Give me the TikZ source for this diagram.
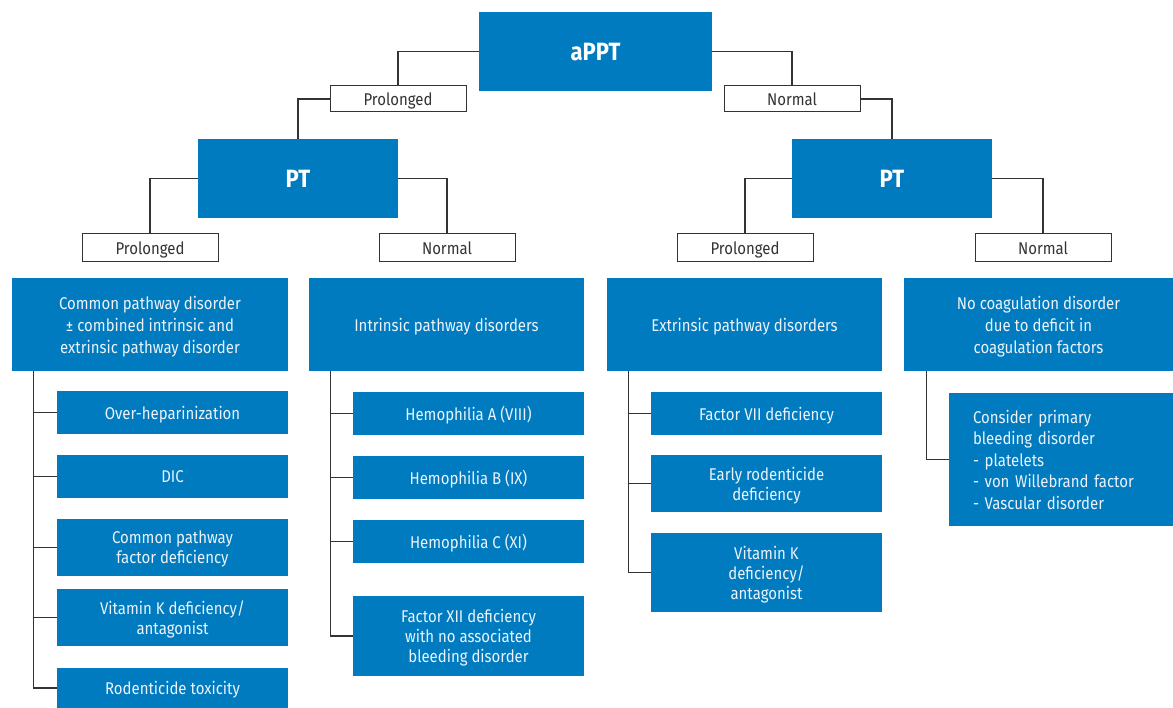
\documentclass[tikz,border=0pt]{standalone}
\usepackage{fontspec}
\setmainfont{Fira Sans}[FakeStretch=0.88]
\definecolor{boxblue}{RGB}{0,123,192}
\definecolor{txtw}{RGB}{236,243,250}
\definecolor{lnc}{RGB}{51,51,51}
\tikzset{
 basebox/.style={fill=boxblue, text=txtw, inner sep=0pt, font=\fontsize{17}{20}\selectfont},
 bluebox/.style={basebox, align=center, text depth=-1pt},
 catbox/.style={bluebox, font=\fontsize{17}{22}\selectfont, minimum height=93pt},
 subA/.style={bluebox, minimum width=231pt},
 headbox/.style={fill=boxblue, text=white, inner sep=0pt, text depth=0pt, minimum width=200pt, minimum height=79pt, font=\fontsize{25}{28}\selectfont\bfseries},
 lbl/.style={draw=lnc, line width=1pt, fill=white, text=lnc, inner sep=0pt, text depth=0pt, minimum width=136pt, minimum height=26pt, font=\fontsize{17}{18}\selectfont},
 conn/.style={draw=lnc, line width=1.2pt},
}
\begin{document}
\begin{tikzpicture}[x=1pt,y=-1pt]
\useasboundingbox (0,0) rectangle (1173,708);
% top
\node[headbox, minimum width=233pt] (appt) at (595.5,51.5) {aPPT};
\node[lbl] (pl1) at (398,99) {Prolonged};
\node[lbl] (nl1) at (792,99) {Normal};
\node[headbox] (ptl) at (298,178.5) {PT};
\node[headbox] (ptr) at (892,178.5) {PT};
\node[lbl, minimum height=28pt] (la) at (150,248) {Prolonged};
\node[lbl, minimum height=28pt] (lb) at (447,248) {Normal};
\node[lbl, minimum height=28pt] (lc) at (745,248) {Prolonged};
\node[lbl, minimum height=28pt] (ld) at (1043,248) {Normal};
\draw[conn] (appt.west) -| (pl1.north);
\draw[conn] (pl1.west) -| (ptl.north);
\draw[conn] (appt.east) -| (nl1.north);
\draw[conn] (nl1.east) -| (ptr.north);
\draw[conn] (ptl.west) -| (la.north);
\draw[conn] (ptl.east) -| (lb.north);
\draw[conn] (ptr.west) -| (lc.north);
\draw[conn] (ptr.east) -| (ld.north);
% categories
\node[catbox, minimum width=276pt] (c1) at (150,324.5) {Common pathway disorder\\± combined intrinsic and\\extrinsic pathway disorder};
\node[catbox, minimum width=275pt] (c2) at (446.5,324.5) {Intrinsic pathway disorders};
\node[catbox, minimum width=275pt] (c3) at (744.5,324.5) {Extrinsic pathway disorders};
\node[catbox, minimum width=269pt] (c4) at (1038.5,324.5) {No coagulation disorder\\due to deficit in\\coagulation factors};
% column 1
\node[subA, minimum height=43pt] (a1) at (172.5,412.5) {Over-heparinization};
\node[subA, minimum height=43pt] (a2) at (172.5,476.5) {DIC};
\node[subA, minimum height=57pt] (a3) at (172.5,547.5) {Common pathway\\factor deficiency};
\node[subA, minimum height=57pt] (a4) at (172.5,617.5) {Vitamin K deficiency/\\antagonist};
\node[subA, minimum height=40pt] (a5) at (172.5,688) {Rodenticide toxicity};
\foreach \n in {a1,a2,a3,a4,a5} \draw[conn] ([xshift=22pt]c1.south west) |- (\n.west);
% column 2
\node[subA, minimum height=43pt] (b1) at (468.5,413.5) {Hemophilia A (VIII)};
\node[subA, minimum height=43pt] (b2) at (468.5,477.5) {Hemophilia B (IX)};
\node[subA, minimum height=43pt] (b3) at (468.5,541.5) {Hemophilia C (XI)};
\node[subA, minimum height=80pt] (b4) at (468.5,636) {Factor XII deficiency\\with no associated\\bleeding disorder};
\foreach \n in {b1,b2,b3,b4} \draw[conn] ([xshift=22pt]c2.south west) |- (\n.west);
% column 3
\node[subA, minimum height=43pt] (d1) at (766.5,413.5) {Factor VII deficiency};
\node[subA, minimum height=57pt] (d2) at (766.5,483.5) {Early rodenticide\\deficiency};
\node[subA, minimum height=79pt] (d3) at (766.5,572.5) {Vitamin K\\deficiency/\\antagonist};
\foreach \n in {d1,d2,d3} \draw[conn] ([xshift=22pt]c3.south west) |- (\n.west);
% column 4
\node[basebox, align=left, minimum width=224pt, minimum height=133pt, text width=176pt, font=\fontsize{17}{21.5}\selectfont] (e1) at (1061,459.5) {Consider primary\\bleeding disorder\\- platelets\\- von Willebrand factor\\- Vascular disorder};
\draw[conn] ([xshift=23pt]c4.south west) |- (e1.west);
\end{tikzpicture}
\end{document}
